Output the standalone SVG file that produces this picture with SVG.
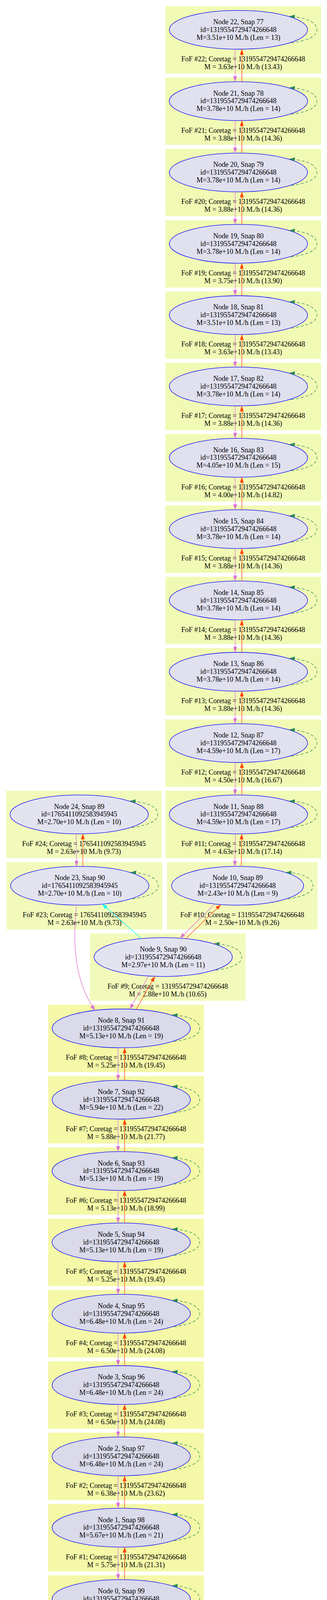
<svg xmlns="http://www.w3.org/2000/svg" width="837" height="4221" viewBox="0 0 837 4221">
<style>
text{font-family:"Liberation Serif","Times New Roman",serif;font-size:18px;text-anchor:middle;fill:#000}
.cA{fill:#f1fab5}.cB{fill:#f2fabb}.cC{fill:#f4f8a7}
.eA{fill:#e0e0ee}.eB{fill:#e3e3f0}.eC{fill:#dadaea}
ellipse{stroke:#0000ff;stroke-width:1.3}
.pk{stroke:#da70d6;stroke-width:1.3;fill:none;marker-end:url(#aPk)}
.rd{stroke:#ff4500;stroke-width:1.3;fill:none;marker-end:url(#aRd)}
.cy{stroke:#00ffff;stroke-width:1.3;fill:none;marker-end:url(#aCy)}
.lp{stroke:#2e8b57;stroke-width:1.3;fill:none;stroke-dasharray:7.5,5;marker-end:url(#aGr)}
</style>
<defs>
<marker id="aPk" markerUnits="userSpaceOnUse" markerWidth="14" markerHeight="10" refX="14" refY="5" orient="auto"><path d="M0,0L14,5L0,10z" fill="#da70d6"/></marker>
<marker id="aRd" markerUnits="userSpaceOnUse" markerWidth="14" markerHeight="10" refX="14" refY="5" orient="auto"><path d="M0,0L14,5L0,10z" fill="#ff4500"/></marker>
<marker id="aCy" markerUnits="userSpaceOnUse" markerWidth="14" markerHeight="10" refX="14" refY="5" orient="auto"><path d="M0,0L14,5L0,10z" fill="#00ffff"/></marker>
<marker id="aGr" markerUnits="userSpaceOnUse" markerWidth="14" markerHeight="10" refX="14" refY="5" orient="auto"><path d="M0,0L14,5L0,10z" fill="#2e8b57"/></marker>
<path id="loop" d="M134.7,33.7C180,27 201,16 201,0C201,-20 172,-32 130.4,-34.6"/>
</defs>
<rect width="837" height="4221" fill="#fff"/>

<g id="nodes">
<g id="node22" transform="translate(423.3,15.7)"><rect class="cA" width="398.4" height="172.6"/><ellipse class="eA" cx="187" cy="60.6" rx="177" ry="49.7"/><text x="187" y="46.4">Node 22, Snap 77</text><text x="187" y="66.2">id=1319554729474266648</text><text x="187" y="86">M=3.51e+10 M./h (Len = 13)</text><text x="199.2" y="141.3">FoF #22; Coretag = 1319554729474266648</text><text x="199.2" y="161.3">M = 3.63e+10 M./h (13.43)</text></g>
<g id="node21" transform="translate(423.3,198.3)"><rect class="cA" width="398.4" height="172.6"/><ellipse class="eA" cx="187" cy="60.6" rx="177" ry="49.7"/><text x="187" y="46.4">Node 21, Snap 78</text><text x="187" y="66.2">id=1319554729474266648</text><text x="187" y="86">M=3.78e+10 M./h (Len = 14)</text><text x="199.2" y="141.3">FoF #21; Coretag = 1319554729474266648</text><text x="199.2" y="161.3">M = 3.88e+10 M./h (14.36)</text></g>
<g id="node20" transform="translate(423.3,380.9)"><rect class="cA" width="398.4" height="172.6"/><ellipse class="eA" cx="187" cy="60.6" rx="177" ry="49.7"/><text x="187" y="46.4">Node 20, Snap 79</text><text x="187" y="66.2">id=1319554729474266648</text><text x="187" y="86">M=3.78e+10 M./h (Len = 14)</text><text x="199.2" y="141.3">FoF #20; Coretag = 1319554729474266648</text><text x="199.2" y="161.3">M = 3.88e+10 M./h (14.36)</text></g>
<g id="node19" transform="translate(423.3,563.5)"><rect class="cA" width="398.4" height="172.6"/><ellipse class="eA" cx="187" cy="60.6" rx="177" ry="49.7"/><text x="187" y="46.4">Node 19, Snap 80</text><text x="187" y="66.2">id=1319554729474266648</text><text x="187" y="86">M=3.78e+10 M./h (Len = 14)</text><text x="199.2" y="141.3">FoF #19; Coretag = 1319554729474266648</text><text x="199.2" y="161.3">M = 3.75e+10 M./h (13.90)</text></g>
<g id="node18" transform="translate(423.3,746.1)"><rect class="cA" width="398.4" height="172.6"/><ellipse class="eA" cx="187" cy="60.6" rx="177" ry="49.7"/><text x="187" y="46.4">Node 18, Snap 81</text><text x="187" y="66.2">id=1319554729474266648</text><text x="187" y="86">M=3.51e+10 M./h (Len = 13)</text><text x="199.2" y="141.3">FoF #18; Coretag = 1319554729474266648</text><text x="199.2" y="161.3">M = 3.63e+10 M./h (13.43)</text></g>
<g id="node17" transform="translate(423.3,928.7)"><rect class="cA" width="398.4" height="172.6"/><ellipse class="eA" cx="187" cy="60.6" rx="177" ry="49.7"/><text x="187" y="46.4">Node 17, Snap 82</text><text x="187" y="66.2">id=1319554729474266648</text><text x="187" y="86">M=3.78e+10 M./h (Len = 14)</text><text x="199.2" y="141.3">FoF #17; Coretag = 1319554729474266648</text><text x="199.2" y="161.3">M = 3.88e+10 M./h (14.36)</text></g>
<g id="node16" transform="translate(423.3,1111.3)"><rect class="cA" width="398.4" height="172.6"/><ellipse class="eA" cx="187" cy="60.6" rx="177" ry="49.7"/><text x="187" y="46.4">Node 16, Snap 83</text><text x="187" y="66.2">id=1319554729474266648</text><text x="187" y="86">M=4.05e+10 M./h (Len = 15)</text><text x="199.2" y="141.3">FoF #16; Coretag = 1319554729474266648</text><text x="199.2" y="161.3">M = 4.00e+10 M./h (14.82)</text></g>
<g id="node15" transform="translate(423.3,1293.9)"><rect class="cA" width="398.4" height="172.6"/><ellipse class="eA" cx="187" cy="60.6" rx="177" ry="49.7"/><text x="187" y="46.4">Node 15, Snap 84</text><text x="187" y="66.2">id=1319554729474266648</text><text x="187" y="86">M=3.78e+10 M./h (Len = 14)</text><text x="199.2" y="141.3">FoF #15; Coretag = 1319554729474266648</text><text x="199.2" y="161.3">M = 3.88e+10 M./h (14.36)</text></g>
<g id="node14" transform="translate(423.3,1476.5)"><rect class="cA" width="398.4" height="172.6"/><ellipse class="eA" cx="187" cy="60.6" rx="177" ry="49.7"/><text x="187" y="46.4">Node 14, Snap 85</text><text x="187" y="66.2">id=1319554729474266648</text><text x="187" y="86">M=3.78e+10 M./h (Len = 14)</text><text x="199.2" y="141.3">FoF #14; Coretag = 1319554729474266648</text><text x="199.2" y="161.3">M = 3.88e+10 M./h (14.36)</text></g>
<g id="node13" transform="translate(423.3,1659.1)"><rect class="cA" width="398.4" height="172.6"/><ellipse class="eA" cx="187" cy="60.6" rx="177" ry="49.7"/><text x="187" y="46.4">Node 13, Snap 86</text><text x="187" y="66.2">id=1319554729474266648</text><text x="187" y="86">M=3.78e+10 M./h (Len = 14)</text><text x="199.2" y="141.3">FoF #13; Coretag = 1319554729474266648</text><text x="199.2" y="161.3">M = 3.88e+10 M./h (14.36)</text></g>
<g id="node12" transform="translate(423.3,1841.7)"><rect class="cA" width="398.4" height="172.6"/><ellipse class="eA" cx="187" cy="60.6" rx="177" ry="49.7"/><text x="187" y="46.4">Node 12, Snap 87</text><text x="187" y="66.2">id=1319554729474266648</text><text x="187" y="86">M=4.59e+10 M./h (Len = 17)</text><text x="199.2" y="141.3">FoF #12; Coretag = 1319554729474266648</text><text x="199.2" y="161.3">M = 4.50e+10 M./h (16.67)</text></g>
<g id="node11" transform="translate(423.3,2024.3)"><rect class="cA" width="398.4" height="172.6"/><ellipse class="eA" cx="187" cy="60.6" rx="177" ry="49.7"/><text x="187" y="46.4">Node 11, Snap 88</text><text x="187" y="66.2">id=1319554729474266648</text><text x="187" y="86">M=4.59e+10 M./h (Len = 17)</text><text x="199.2" y="141.3">FoF #11; Coretag = 1319554729474266648</text><text x="199.2" y="161.3">M = 4.63e+10 M./h (17.14)</text></g>
<g id="node24" transform="translate(15.5,2024.3)"><rect class="cB" width="398.4" height="172.6"/><ellipse class="eB" cx="187.2" cy="60.6" rx="177" ry="49.7"/><text x="187.2" y="46.4">Node 24, Snap 89</text><text x="187.2" y="66.2">id=1765411092583945945</text><text x="187.2" y="86">M=2.70e+10 M./h (Len = 10)</text><text x="199.2" y="141.3">FoF #24; Coretag = 1765411092583945945</text><text x="199.2" y="161.3">M = 2.63e+10 M./h (9.73)</text></g>
<g id="node23" transform="translate(17.1,2206.9)"><rect class="cB" width="398.4" height="172.6"/><ellipse class="eB" cx="187" cy="60.6" rx="177" ry="49.7"/><text x="187" y="46.4">Node 23, Snap 90</text><text x="187" y="66.2">id=1765411092583945945</text><text x="187" y="86">M=2.70e+10 M./h (Len = 10)</text><text x="199.2" y="141.3">FoF #23; Coretag = 1765411092583945945</text><text x="199.2" y="161.3">M = 2.63e+10 M./h (9.73)</text></g>
<g id="node10" transform="translate(427.4,2206.9)"><rect class="cB" width="385.6" height="172.6"/><ellipse class="eB" cx="180.8" cy="60.6" rx="169" ry="49.7"/><text x="180.8" y="46.4">Node 10, Snap 89</text><text x="180.8" y="66.2">id=1319554729474266648</text><text x="180.8" y="86">M=2.43e+10 M./h (Len = 9)</text><text x="192.8" y="141.3">FoF #10; Coretag = 1319554729474266648</text><text x="192.8" y="161.3">M = 2.50e+10 M./h (9.26)</text></g>
<g id="node9" transform="translate(230.2,2389.5)"><rect class="cB" width="398.4" height="172.6"/><ellipse class="eB" cx="187.5" cy="60.6" rx="177" ry="49.7"/><text x="187.5" y="46.4">Node 9, Snap 90</text><text x="187.5" y="66.2">id=1319554729474266648</text><text x="187.5" y="86">M=2.97e+10 M./h (Len = 11)</text><text x="199.2" y="141.3">FoF #9; Coretag = 1319554729474266648</text><text x="199.2" y="161.3">M = 2.88e+10 M./h (10.65)</text></g>
<g id="node8" transform="translate(123.3,2572.1)"><rect class="cC" width="398.4" height="172.6"/><ellipse class="eC" cx="187" cy="60.6" rx="177" ry="49.7"/><text x="187" y="46.4">Node 8, Snap 91</text><text x="187" y="66.2">id=1319554729474266648</text><text x="187" y="86">M=5.13e+10 M./h (Len = 19)</text><text x="199.2" y="141.3">FoF #8; Coretag = 1319554729474266648</text><text x="199.2" y="161.3">M = 5.25e+10 M./h (19.45)</text></g>
<g id="node7" transform="translate(123.3,2754.7)"><rect class="cC" width="398.4" height="172.6"/><ellipse class="eC" cx="187" cy="60.6" rx="177" ry="49.7"/><text x="187" y="46.4">Node 7, Snap 92</text><text x="187" y="66.2">id=1319554729474266648</text><text x="187" y="86">M=5.94e+10 M./h (Len = 22)</text><text x="199.2" y="141.3">FoF #7; Coretag = 1319554729474266648</text><text x="199.2" y="161.3">M = 5.88e+10 M./h (21.77)</text></g>
<g id="node6" transform="translate(123.3,2937.3)"><rect class="cC" width="398.4" height="172.6"/><ellipse class="eC" cx="187" cy="60.6" rx="177" ry="49.7"/><text x="187" y="46.4">Node 6, Snap 93</text><text x="187" y="66.2">id=1319554729474266648</text><text x="187" y="86">M=5.13e+10 M./h (Len = 19)</text><text x="199.2" y="141.3">FoF #6; Coretag = 1319554729474266648</text><text x="199.2" y="161.3">M = 5.13e+10 M./h (18.99)</text></g>
<g id="node5" transform="translate(123.3,3119.9)"><rect class="cC" width="398.4" height="172.6"/><ellipse class="eC" cx="187" cy="60.6" rx="177" ry="49.7"/><text x="187" y="46.4">Node 5, Snap 94</text><text x="187" y="66.2">id=1319554729474266648</text><text x="187" y="86">M=5.13e+10 M./h (Len = 19)</text><text x="199.2" y="141.3">FoF #5; Coretag = 1319554729474266648</text><text x="199.2" y="161.3">M = 5.25e+10 M./h (19.45)</text></g>
<g id="node4" transform="translate(123.3,3302.5)"><rect class="cC" width="398.4" height="172.6"/><ellipse class="eC" cx="187" cy="60.6" rx="177" ry="49.7"/><text x="187" y="46.4">Node 4, Snap 95</text><text x="187" y="66.2">id=1319554729474266648</text><text x="187" y="86">M=6.48e+10 M./h (Len = 24)</text><text x="199.2" y="141.3">FoF #4; Coretag = 1319554729474266648</text><text x="199.2" y="161.3">M = 6.50e+10 M./h (24.08)</text></g>
<g id="node3" transform="translate(123.3,3485.1)"><rect class="cC" width="398.4" height="172.6"/><ellipse class="eC" cx="187" cy="60.6" rx="177" ry="49.7"/><text x="187" y="46.4">Node 3, Snap 96</text><text x="187" y="66.2">id=1319554729474266648</text><text x="187" y="86">M=6.48e+10 M./h (Len = 24)</text><text x="199.2" y="141.3">FoF #3; Coretag = 1319554729474266648</text><text x="199.2" y="161.3">M = 6.50e+10 M./h (24.08)</text></g>
<g id="node2" transform="translate(123.3,3667.7)"><rect class="cC" width="398.4" height="172.6"/><ellipse class="eC" cx="187" cy="60.6" rx="177" ry="49.7"/><text x="187" y="46.4">Node 2, Snap 97</text><text x="187" y="66.2">id=1319554729474266648</text><text x="187" y="86">M=6.48e+10 M./h (Len = 24)</text><text x="199.2" y="141.3">FoF #2; Coretag = 1319554729474266648</text><text x="199.2" y="161.3">M = 6.38e+10 M./h (23.62)</text></g>
<g id="node1" transform="translate(123.3,3850.3)"><rect class="cC" width="398.4" height="172.6"/><ellipse class="eC" cx="187" cy="60.6" rx="177" ry="49.7"/><text x="187" y="46.4">Node 1, Snap 98</text><text x="187" y="66.2">id=1319554729474266648</text><text x="187" y="86">M=5.67e+10 M./h (Len = 21)</text><text x="199.2" y="141.3">FoF #1; Coretag = 1319554729474266648</text><text x="199.2" y="161.3">M = 5.75e+10 M./h (21.31)</text></g>
<g id="node0" transform="translate(123.3,4032.9)"><rect class="cC" width="398.4" height="172.6"/><ellipse class="eC" cx="187" cy="60.6" rx="177" ry="49.7"/><text x="187" y="46.4">Node 0, Snap 99</text><text x="187" y="66.2">id=1319554729474266648</text><text x="187" y="86">M=5.94e+10 M./h (Len = 22)</text><text x="199.2" y="141.3">FoF #0; Coretag = 1319554729474266648</text><text x="199.2" y="161.3">M = 6.00e+10 M./h (22.23)</text></g>
</g>

<g id="connectors">
<path class="pk" d="M601.8,126V209.2"/><path class="rd" d="M619,209.2V126"/>
<path class="pk" d="M601.8,308.6V391.8"/><path class="rd" d="M619,391.8V308.6"/>
<path class="pk" d="M601.8,491.2V574.4"/><path class="rd" d="M619,574.4V491.2"/>
<path class="pk" d="M601.8,673.8V757"/><path class="rd" d="M619,757V673.8"/>
<path class="pk" d="M601.8,856.4V939.6"/><path class="rd" d="M619,939.6V856.4"/>
<path class="pk" d="M601.8,1039V1122.2"/><path class="rd" d="M619,1122.2V1039"/>
<path class="pk" d="M601.8,1221.6V1304.8"/><path class="rd" d="M619,1304.8V1221.6"/>
<path class="pk" d="M601.8,1404.2V1487.4"/><path class="rd" d="M619,1487.4V1404.2"/>
<path class="pk" d="M601.8,1586.8V1670"/><path class="rd" d="M619,1670V1586.8"/>
<path class="pk" d="M601.8,1769.4V1852.6"/><path class="rd" d="M619,1852.6V1769.4"/>
<path class="pk" d="M601.8,1952V2035.2"/><path class="rd" d="M619,2035.2V1952"/>
<path class="pk" d="M602.6,2134.6L601,2217.8"/><path class="rd" d="M617.5,2217.8L618.6,2134.6"/>
<path class="pk" d="M195,2134.6L196,2217.8"/><path class="rd" d="M212,2217.8V2134.6"/>
<path class="pk" d="M196,2317.2C187,2400 186,2505 243.1,2586.7"/>
<path class="cy" d="M362.2,2402.9L261.8,2314.5"/>
<path class="pk" d="M550.2,2314.2L460.5,2401.9"/><path class="rd" d="M475.4,2403.1L565.2,2315.6"/>
<path class="pk" d="M380.3,2498.7L332.3,2583.4"/><path class="rd" d="M348.3,2584.2L396.4,2499.4"/>
<path class="pk" d="M302.3,2682.4V2765.6"/><path class="rd" d="M319,2765.6V2682.4"/>
<path class="pk" d="M302.3,2865V2948.2"/><path class="rd" d="M319,2948.2V2865"/>
<path class="pk" d="M302.3,3047.6V3130.8"/><path class="rd" d="M319,3130.8V3047.6"/>
<path class="pk" d="M302.3,3230.2V3313.4"/><path class="rd" d="M319,3313.4V3230.2"/>
<path class="pk" d="M302.3,3412.8V3496"/><path class="rd" d="M319,3496V3412.8"/>
<path class="pk" d="M302.3,3595.4V3678.6"/><path class="rd" d="M319,3678.6V3595.4"/>
<path class="pk" d="M302.3,3778V3861.2"/><path class="rd" d="M319,3861.2V3778"/>
<path class="pk" d="M302.3,3960.6V4043.8"/><path class="rd" d="M319,4043.8V3960.6"/>
<use class="lp" href="#loop" x="610.3" y="76.3"/>
<use class="lp" href="#loop" x="610.3" y="258.9"/>
<use class="lp" href="#loop" x="610.3" y="441.5"/>
<use class="lp" href="#loop" x="610.3" y="624.1"/>
<use class="lp" href="#loop" x="610.3" y="806.7"/>
<use class="lp" href="#loop" x="610.3" y="989.3"/>
<use class="lp" href="#loop" x="610.3" y="1171.9"/>
<use class="lp" href="#loop" x="610.3" y="1354.5"/>
<use class="lp" href="#loop" x="610.3" y="1537.1"/>
<use class="lp" href="#loop" x="610.3" y="1719.7"/>
<use class="lp" href="#loop" x="610.3" y="1902.3"/>
<use class="lp" href="#loop" x="610.3" y="2084.9"/>
<use class="lp" href="#loop" x="202.7" y="2084.9"/>
<use class="lp" href="#loop" x="204.1" y="2267.5"/>
<path class="lp" d="M736.8,2301.2C780.2,2294.5 801.2,2283.5 801.2,2267.5C801.2,2247.5 772.2,2235.5 732.2,2232.9"/>
<use class="lp" href="#loop" x="417.7" y="2450.1"/>
<use class="lp" href="#loop" x="310.3" y="2632.7"/>
<use class="lp" href="#loop" x="310.3" y="2815.3"/>
<use class="lp" href="#loop" x="310.3" y="2997.9"/>
<use class="lp" href="#loop" x="310.3" y="3180.5"/>
<use class="lp" href="#loop" x="310.3" y="3363.1"/>
<use class="lp" href="#loop" x="310.3" y="3545.7"/>
<use class="lp" href="#loop" x="310.3" y="3728.3"/>
<use class="lp" href="#loop" x="310.3" y="3910.9"/>
<use class="lp" href="#loop" x="310.3" y="4093.5"/>
</g>
</svg>
